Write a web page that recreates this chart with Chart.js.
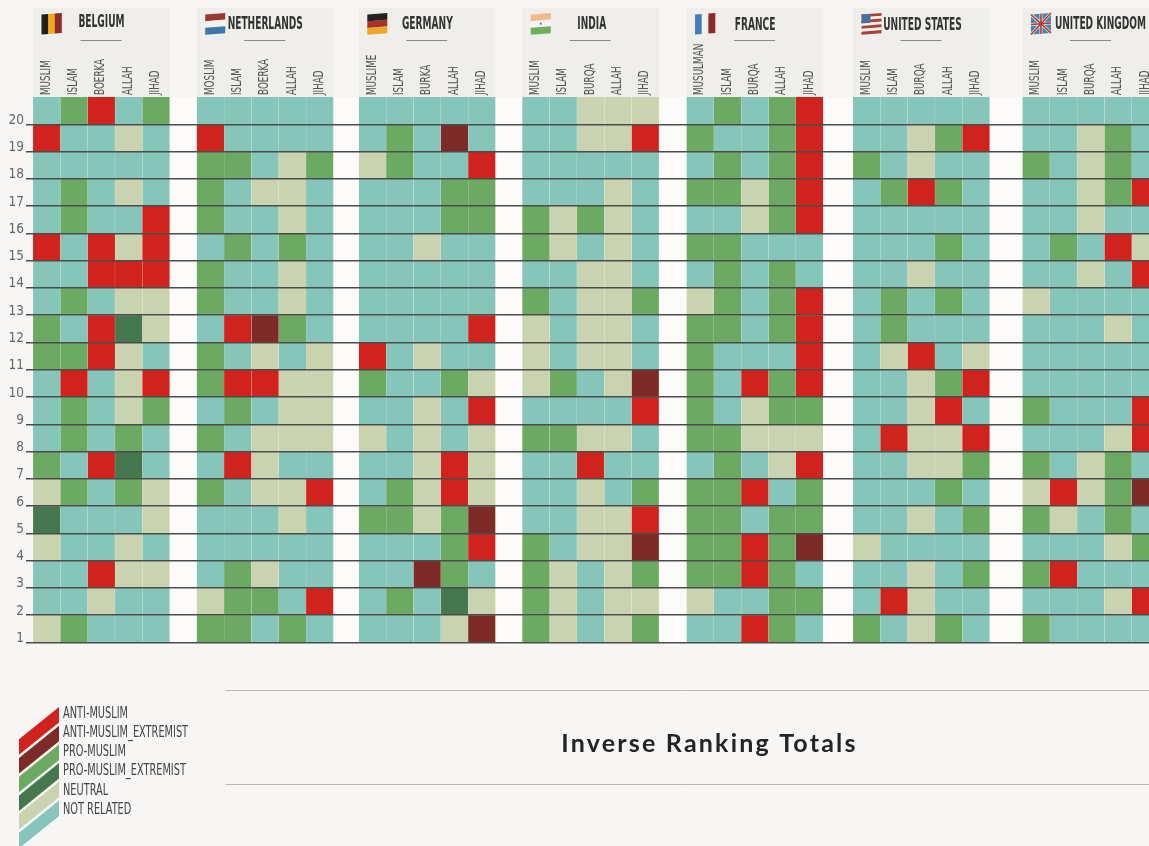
<!DOCTYPE html>
<html>
<head>
<meta charset="utf-8">
<title>Inverse Ranking Totals</title>
<script src="https://cdn.jsdelivr.net/npm/chart.js@4"></script>
<style>
  html, body { margin: 0; background: #f7f6f4; overflow: hidden; }
  canvas { display: block; }
</style>
</head>
<body>
<canvas id="rankChart" width="1149" height="846"></canvas>
<script>
// T not related, N neutral, G pro-muslim, D pro-muslim extremist, R anti-muslim, M anti-muslim extremist
const categories = ['ANTI-MUSLIM', 'ANTI-MUSLIM_EXTREMIST', 'PRO-MUSLIM', 'PRO-MUSLIM_EXTREMIST', 'NEUTRAL', 'NOT RELATED'];
const categoryCodes = ['R', 'M', 'G', 'D', 'N', 'T'];
const categoryColors = ['#d0231e', '#7e2a27', '#6ca962', '#467850', '#cad3b0', '#85c5ba'];

const ranks = [20, 19, 18, 17, 16, 15, 14, 13, 12, 11, 10, 9, 8, 7, 6, 5, 4, 3, 2, 1];
const countries = ['BELGIUM', 'NETHERLANDS', 'GERMANY', 'INDIA', 'FRANCE', 'UNITED STATES', 'UNITED KINGDOM'];

const belgiumTerms = ['MUSLIM', 'ISLAM', 'BOERKA', 'ALLAH', 'JIHAD'];
const netherlandsTerms = ['MOSLIM', 'ISLAM', 'BOERKA', 'ALLAH', 'JIHAD'];
const germanyTerms = ['MUSLIME', 'ISLAM', 'BURKA', 'ALLAH', 'JIHAD'];
const indiaTerms = ['MUSLIM', 'ISLAM', 'BURQA', 'ALLAH', 'JIHAD'];
const franceTerms = ['MUSULMAN', 'ISLAM', 'BURQA', 'ALLAH', 'JIHAD'];
const usTerms = ['MUSLIM', 'ISLAM', 'BURQA', 'ALLAH', 'JIHAD'];
const ukTerms = ['MUSLIM', 'ISLAM', 'BURQA', 'ALLAH', 'JIHAD'];

// each string is one rank, top row (20) first, one letter per term
const belgiumRows = ['TGRTG', 'RTTNT', 'TTTTT', 'TGTNT', 'TGTTR', 'RTRNR', 'TTRRR', 'TGTNN', 'GTRDN', 'GGRNT',
                     'TRTNR', 'TGTNG', 'TGTGT', 'GTRDT', 'NGTGN', 'DTTTN', 'NTTNT', 'TTRNN', 'TTNTT', 'NGTTT'];
const netherlandsRows = ['TTTTT', 'RTTTT', 'GGTNG', 'GTNNT', 'GTTNT', 'TGTGT', 'GTTNT', 'GTTNT', 'TRMGT', 'GTNTN',
                         'GRRNN', 'TGTNN', 'GTNNN', 'TRNTT', 'GTNNR', 'TTTNT', 'TTTTT', 'TGNTT', 'NGGTR', 'GGTGT'];
const germanyRows = ['TTTTT', 'TGTMT', 'NGTTR', 'TTTGG', 'TTTGG', 'TTNTT', 'TTTTT', 'TTTTT', 'TTTTR', 'RTNTT',
                     'GTTGN', 'TTNTR', 'NTNTN', 'TTNRN', 'TGNRN', 'GGNGM', 'TTTGR', 'TTMGT', 'TGTDN', 'TTTNM'];
const indiaRows = ['TTNNN', 'TTNNR', 'TTTTT', 'TTTNT', 'GNGNT', 'GNTNT', 'TTNNT', 'GTNNG', 'NTNNT', 'NTNNT',
                   'NGTNM', 'TTTTR', 'GGNNT', 'TTRTT', 'TTNTG', 'TTNNR', 'GTNNM', 'GNTNG', 'GNTNN', 'GNTNG'];
const franceRows = ['TGTGR', 'GTTGR', 'TGTGR', 'GGNGR', 'TTNGR', 'GGTTT', 'TGTGT', 'NGTGR', 'GGTGR', 'GTTTR',
                    'GTRGR', 'GTNGG', 'GGNNN', 'TGTNR', 'GGRTG', 'GGTGG', 'GGRGM', 'GGRGT', 'NTTGG', 'TTRGT'];
const usRows = ['TTTTT', 'TTNGR', 'GTNTT', 'TGRGT', 'TTTTT', 'TTTGT', 'TTNTT', 'TGTGT', 'TGTTT', 'TNRTN',
                'TTNGR', 'TTNRT', 'TRNNR', 'TTNNG', 'TTTGT', 'TTNTG', 'NTTTT', 'TTNTG', 'TRNTT', 'GTNGT'];
const ukRows = ['TTTTT', 'TTNGT', 'GTNGT', 'TTNGR', 'TTNTT', 'TGTRN', 'TTNTR', 'NTTTT', 'TTTNT', 'TTTTT',
                'TTTTT', 'GTTTR', 'TTTNR', 'GTNGT', 'NRNGM', 'GNTGT', 'TTTNG', 'GRTTT', 'TTTNR', 'GTTTT'];

const countryTerms = [belgiumTerms, netherlandsTerms, germanyTerms, indiaTerms, franceTerms, usTerms, ukTerms];
const countryRows = [belgiumRows, netherlandsRows, germanyRows, indiaRows, franceRows, usRows, ukRows];

// layout: where each country's block starts on the x axis, in cell widths
const groupStarts = [0, 5.99, 11.92, 17.9, 23.91, 30, 36.2];
const nameCentres = [68.5, 68.5, 68.5, 69.5, 68.5, 69.5, 78];
const nameRows = [22.5, 24, 24, 24, 25, 25, 24];
const xAxisMax = 40.83;
const narrowFont = '"Liberation Sans Narrow", "DejaVu Sans Condensed", sans-serif';

// one dataset per category, each cell a floating bar from its rank to the next
const datasets = categories.map((name, c) => {
    const cells = [];
    countryRows.forEach((rows, g) => {
        rows.forEach((row, r) => {
            [...row].forEach((code, t) => {
                if (code === categoryCodes[c]) {
                    cells.push({ x: groupStarts[g] + t + 0.5, y: [ranks[r], ranks[r] + 1] });
                }
            });
        });
    });
    return {
        label: name,
        data: cells,
        backgroundColor: categoryColors[c],
        borderColor: 'rgba(255, 255, 255, 0.15)',
        borderWidth: { left: 0.4, right: 0.4, top: 0, bottom: 0 },
        borderSkipped: false
    };
});

// text squeezed sideways, the original type is a very tall condensed face
function squeezedText(ctx, text, x, y, font, scaleX, color, align, turned) {
    ctx.save();
    ctx.font = font;
    ctx.fillStyle = color;
    ctx.textAlign = align;
    ctx.textBaseline = 'middle';
    ctx.translate(x, y);
    if (turned) ctx.rotate(-Math.PI / 2);
    ctx.scale(scaleX, 1);
    ctx.fillText(text, 0, 0);
    ctx.restore();
}

function stripes(ctx, colors, vertical) {
    const w = 20, h = 20;
    colors.forEach((color, i) => {
        ctx.fillStyle = color;
        if (vertical) ctx.fillRect(i * w / colors.length, 0, w / colors.length + 0.3, h);
        else ctx.fillRect(0, i * h / colors.length, w, h / colors.length + 0.3);
    });
}

function drawFlag(ctx, g, x, y) {
    ctx.save();
    ctx.transform(1, -0.08, 0, 1, x, y + 1.5);
    if (g === 0) stripes(ctx, ['#1f1f1f', '#f0a81e', '#8e2a27'], true);
    if (g === 1) stripes(ctx, ['#9b3a35', '#f4f2ee', '#3e77ac'], false);
    if (g === 2) stripes(ctx, ['#222222', '#a5352a', '#f0a62c'], false);
    if (g === 3) {
        stripes(ctx, ['#f2b98a', '#f7f6f0', '#6daf5f'], false);
        ctx.fillStyle = '#5a7fb0';
        ctx.fillRect(9, 9, 2, 2);
    }
    if (g === 4) stripes(ctx, ['#3f7fb5', '#f4f2ee', '#8e2a27'], true);
    if (g === 5) {
        stripes(ctx, ['#a8413c', '#f2efe8', '#a8413c', '#f2efe8', '#a8413c', '#f2efe8', '#a8413c'], false);
        ctx.fillStyle = '#4a6f9c';
        ctx.fillRect(0, 0, 9, 9);
    }
    if (g === 6) {
        ctx.fillStyle = '#4a7fae';
        ctx.fillRect(0, 0, 20, 20);
        ctx.strokeStyle = '#e8e4dc';
        ctx.lineWidth = 3;
        ctx.beginPath();
        ctx.moveTo(0, 0); ctx.lineTo(20, 20);
        ctx.moveTo(20, 0); ctx.lineTo(0, 20);
        ctx.moveTo(10, 0); ctx.lineTo(10, 20);
        ctx.moveTo(0, 10); ctx.lineTo(20, 10);
        ctx.stroke();
        ctx.strokeStyle = '#a8413c';
        ctx.lineWidth = 1.6;
        ctx.stroke();
    }
    ctx.restore();
}

// country panels, term labels, white gaps, legend and the lower title
const decorations = {
    id: 'decorations',
    beforeDraw(chart) {
        const ctx = chart.ctx;
        const x = chart.scales.x;
        const area = chart.chartArea;

        groupStarts.forEach((start, g) => {
            const left = x.getPixelForValue(start);
            const right = x.getPixelForValue(start + 5);
            ctx.fillStyle = '#efeeeb';
            ctx.fillRect(left, 8, right - left, area.top - 8);
            if (g < groupStarts.length - 1) {
                ctx.fillStyle = '#fcfbfa';
                ctx.fillRect(right, area.top, x.getPixelForValue(groupStarts[g + 1]) - right, area.bottom - area.top);
            }
            drawFlag(ctx, g, left + 8.5, 13);
            squeezedText(ctx, countries[g], left + nameCentres[g], nameRows[g], 'bold 18px ' + narrowFont, 0.56, '#333333', 'center');
            ctx.strokeStyle = '#8a8a86';
            ctx.lineWidth = 1;
            ctx.beginPath();
            ctx.moveTo(left + 47.5, 40.5);
            ctx.lineTo(left + 88.5, 40.5);
            ctx.stroke();
            countryTerms[g].forEach((term, t) => {
                squeezedText(ctx, term, x.getPixelForValue(start + t + 0.5) - 0.5, 95, '14px ' + narrowFont, 0.7, '#555555', 'left', true);
            });
        });

        // legend, slanted bands stepping down the page
        categoryColors.forEach((color, i) => {
            const step = 18.7 * i;
            ctx.fillStyle = color;
            ctx.beginPath();
            ctx.moveTo(19, 739.3 + step);
            ctx.lineTo(59, 707 + step);
            ctx.lineTo(59, 722.5 + step);
            ctx.lineTo(19, 754.8 + step);
            ctx.closePath();
            ctx.fill();
            squeezedText(ctx, categories[i], 63, 714 + 19.1 * i, '16px ' + narrowFont, 0.68, '#444444', 'left');
        });

        ctx.strokeStyle = '#b9b8b5';
        ctx.lineWidth = 1;
        ctx.beginPath();
        ctx.moveTo(226, 690.5); ctx.lineTo(1149, 690.5);
        ctx.moveTo(226, 784.5); ctx.lineTo(1149, 784.5);
        ctx.stroke();

        ctx.save();
        ctx.font = 'bold 25px Lato, sans-serif';
        ctx.letterSpacing = '2.2px';
        ctx.fillStyle = '#242424';
        ctx.textAlign = 'center';
        ctx.textBaseline = 'middle';
        ctx.fillText('Inverse Ranking Totals', 709.5, 744);
        ctx.restore();
    }
};

const rankConfig = {
    type: 'bar',
    data: { datasets: datasets },
    plugins: [decorations],
    options: {
        responsive: false,
        animation: false,
        grouped: false,
        barPercentage: 1,
        categoryPercentage: 1,
        layout: { padding: { top: 0, left: 0, right: 0, bottom: 203.5 } },
        plugins: {
            legend: { display: false },
            title: { display: false }
        },
        scales: {
            x: {
                type: 'linear',
                position: 'top',
                min: 0,
                max: xAxisMax,
                offset: false,
                grid: { display: false, offset: false, drawTicks: false },
                border: { display: false },
                afterFit(scale) {
                    scale.height = 97;
                    scale.paddingLeft = 0;
                    scale.paddingRight = 0;
                },
                ticks: { display: false }
            },
            y: {
                min: 1,
                max: 21,
                grid: { color: '#4c4c4c', lineWidth: 1.5, tickLength: 7, z: 1 },
                border: { display: false },
                afterBuildTicks(scale) {
                    scale.ticks = ranks.map(v => ({ value: v }));
                },
                afterFit(scale) {
                    scale.width = 33;
                },
                ticks: {
                    padding: 2,
                    labelOffset: -4,
                    color: '#666666',
                    font: { family: narrowFont, size: 13.5 }
                }
            }
        }
    }
};

new Chart(document.getElementById('rankChart').getContext('2d'), rankConfig);
</script>
</body>
</html>
